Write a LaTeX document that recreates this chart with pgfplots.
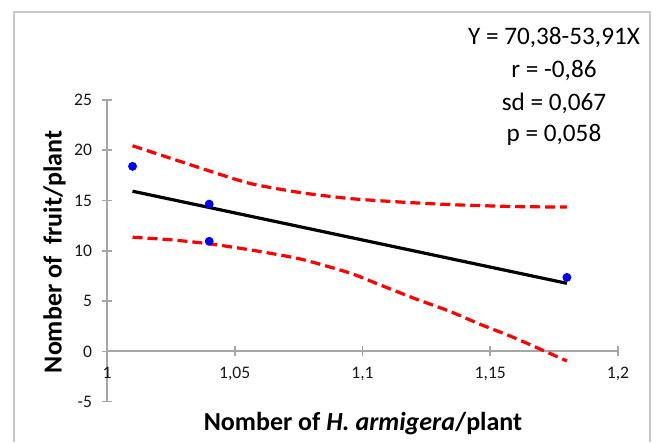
\documentclass[border=0pt]{standalone}
\usepackage{pgfplots}
\pgfplotsset{compat=1.18}
\usepackage{fontspec}
\setmainfont{Carlito}

\definecolor{axgray}{RGB}{166,166,166}
\definecolor{framegray}{RGB}{200,200,200}

\begin{document}
\begin{tikzpicture}
% page size in reference pixels * 0.5pt
\path (0pt,0pt) rectangle (329.5pt,220pt);
\draw[framegray, line width=1pt] (7pt,-1pt) -- (7pt,214pt) -- (325pt,214pt) -- (325pt,-1pt);
\begin{axis}[
    scale only axis,
    width=255.5pt, height=150.85pt,
    at={(53.5pt,19.15pt)}, anchor=south west,
    xmin=1, xmax=1.2, ymin=-5, ymax=25,
    axis x line=middle, axis y line=left,
    axis line style={axgray, line width=1pt, -},
    xtick={1,1.05,1.1,1.15,1.2},
    xticklabels={1,{1,05},{1,1},{1,15},{1,2}},
    ytick={-5,0,5,10,15,20,25},
    yticklabels={-5,0,5,10,15,20,25},
    hide obscured x ticks=false, hide obscured y ticks=false,
    tick align=center, major tick length=5pt,
    tick style={axgray, line width=0.8pt},
    ticklabel style={font=\fontsize{8.8}{10}\selectfont, text=black!90},
    xticklabel style={yshift=-2pt},
    yticklabel style={xshift=-1.5pt},
    clip=false,
]
% confidence band
\addplot[red, line width=1.6pt, dash pattern=on 5pt off 2.5pt, smooth, tension=0.4] coordinates {
    (1.01,20.45) (1.04,17.95) (1.056,16.7) (1.0755,15.8) (1.095,15.2)
    (1.115,14.85) (1.134,14.6) (1.146,14.5) (1.16,14.4) (1.18,14.35)
};
\addplot[red, line width=1.6pt, dash pattern=on 5pt off 2.5pt, smooth, tension=0.4] coordinates {
    (1.01,11.35) (1.025,11.1) (1.04,10.7) (1.056,10.1) (1.0755,9.2)
    (1.095,7.8) (1.107,6.6) (1.12,5.3) (1.134,4.0) (1.146,2.7)
    (1.159,1.4) (1.18,-0.95)
};
% regression line
\addplot[black, line width=1.6pt] coordinates {(1.01,15.93) (1.18,6.77)};
% observations
\addplot[only marks, mark=*, mark size=2pt, blue] coordinates {
    (1.01,18.4) (1.04,14.65) (1.04,10.95) (1.18,7.36)
};
\end{axis}
\node[rotate=90, anchor=base, font=\fontsize{13}{15}\selectfont\bfseries] at (30.85pt,94pt) {Nomber of~~fruit/plant};
\node[anchor=base, font=\fontsize{13}{15}\selectfont\bfseries] at (181.5pt,4.5pt) {Nomber of \textit{H. armigera\/}/plant};
\begin{scope}[every node/.style={anchor=base, font=\fontsize{12.6}{14}\selectfont}]
\node at (277pt,197.5pt) {Y = 70,38-53,91X};
\node at (277pt,181.25pt) {r = -0,86};
\node at (277pt,164.5pt) {sd = 0,067};
\node at (277pt,149pt) {p = 0,058};
\end{scope}
\end{tikzpicture}
\end{document}
